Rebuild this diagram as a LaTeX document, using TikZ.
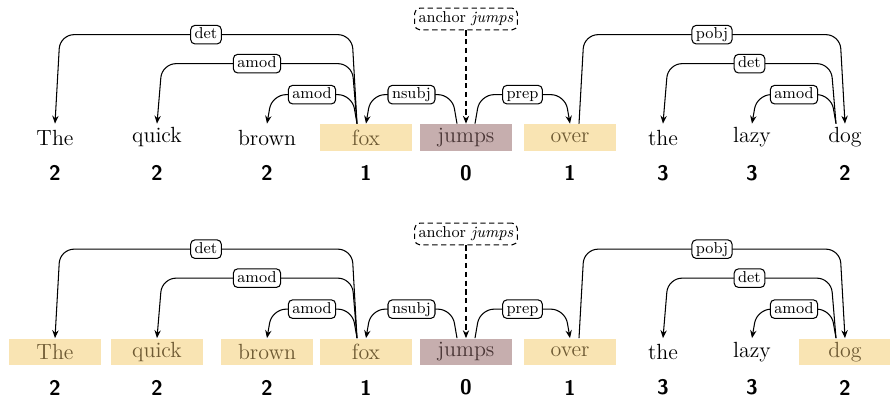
\documentclass[tikz,border=0pt]{standalone}
\usepackage{tikz}
\usetikzlibrary{calc, positioning, arrows.meta}

\definecolor{hlYellow}{HTML}{F9E4B3}
\definecolor{hlYellowText}{HTML}{6E5A33}
\definecolor{hlRose}{HTML}{C6AEAE}
\definecolor{hlRoseText}{HTML}{4A3636}

\tikzset{
  word/.style={minimum width=1.84cm, minimum height=0.54cm, inner sep=0pt,
               font=\fontsize{12.5}{15}\selectfont},
  plain/.style={word},
  picked/.style={word, fill=hlYellow, text=hlYellowText},
  root/.style={word, fill=hlRose, text=hlRoseText},
  depthnum/.style={font=\sffamily\bfseries\large},
  tip/.style={-{Stealth[length=4.5pt,width=3.6pt]}, line width=0.6pt},
  arc/.style={tip, rounded corners=8pt},
  arclabel/.style={draw, fill=white, rounded corners=2.5pt, font=\small, line width=0.6pt,
                   inner xsep=2.3pt, inner ysep=1.4pt, text height=6.2pt, text depth=1.6pt},
  anchorbox/.style={draw, dash pattern=on 3pt off 2pt, rounded corners=3pt, font=\small,
                    inner sep=2.2pt, line width=0.6pt, text height=6.2pt, text depth=1.8pt}
}

% #1 head, #2 dependent, #3 height above the words, #4 relation, #5 side (-1 left, 1 right)
\newcommand{\deparc}[5]{%
  \draw[arc] ($(#1.north)+(9*#5,0)$) -- ($(#1.north)+(14*#5,#3)$)
    -- node[arclabel]{#4} ($(#2.north)+(-5*#5,#3)$) -- (#2.north);}

\begin{document}
\begin{tikzpicture}[x=0.02cm, y=0.02cm]
  \useasboundingbox (0,0) rectangle (890,399);

  % upper sentence
  \foreach \w/\x/\d/\s [count=\i] in {The/55/2/plain, quick/157/2/plain, brown/267/2/plain,
      fox/366/1/picked, jumps/466/0/root, over/570/1/picked, the/663/3/plain,
      lazy/752/3/plain, dog/845/2/plain} {
    \node[\s] (t\i) at (\x,261.5) {\w};
    \node[depthnum] (td\i) at (\x,226) {\d};
  }

  % lower sentence
  \foreach \w/\x/\d/\s [count=\i] in {The/55/2/picked, quick/157/2/picked, brown/267/2/picked,
      fox/366/1/picked, jumps/466/0/root, over/570/1/picked, the/663/3/plain,
      lazy/752/3/plain, dog/845/2/picked} {
    \node[\s] (b\i) at (\x,47) {\w};
    \node[depthnum] (bd\i) at (\x,11.5) {\d};
  }

  % dependency arcs, same tree in both rows
  \foreach \r in {t,b} {
    \deparc{\r4}{\r1}{89}{det}{-1}
    \deparc{\r4}{\r2}{60}{amod}{-1}
    \deparc{\r4}{\r3}{29}{amod}{-1}
    \deparc{\r5}{\r4}{29}{nsubj}{-1}
    \deparc{\r5}{\r6}{29}{prep}{1}
    \deparc{\r6}{\r9}{89}{pobj}{1}
    \deparc{\r9}{\r7}{60}{det}{-1}
    \deparc{\r9}{\r8}{29}{amod}{-1}
  }

  % anchor markers
  \node[anchorbox] (ta) at (466,380) {anchor \textit{jumps}};
  \node[anchorbox] (ba) at (466,165) {anchor \textit{jumps}};
  \draw[tip, dash pattern=on 3pt off 2pt] (ta) -- (t5);
  \draw[tip, dash pattern=on 3pt off 2pt] (ba) -- (b5);
\end{tikzpicture}
\end{document}
